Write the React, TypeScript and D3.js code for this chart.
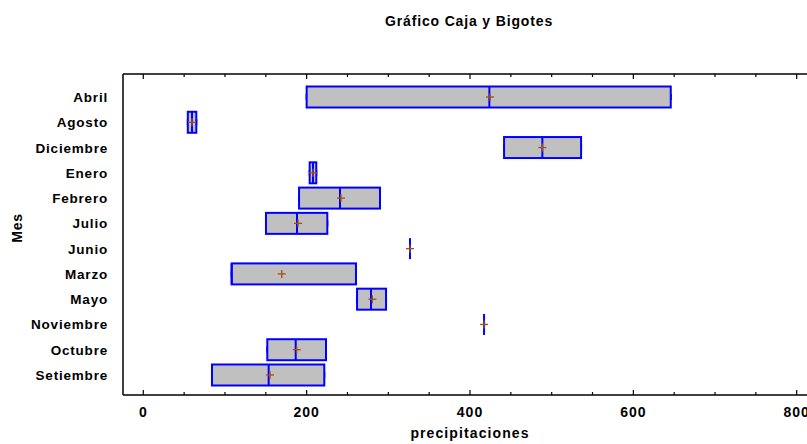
import React from "react";
import * as d3 from "d3";

// Precipitation by month: quartiles, median, mean and extremes
const months = ["Abril", "Agosto", "Diciembre", "Enero", "Febrero", "Julio", "Junio", "Marzo", "Mayo", "Noviembre", "Octubre", "Setiembre"];
const minVals = [200, 54.5, 441.7, 203.7, 190.7, 150.2, 326.5, 108.2, 261.7, 417.2, 151.8, 84.1];
const q1Vals = [200, 54.5, 441.7, 203.7, 190.7, 150.2, 326.5, 108.2, 261.7, 417.2, 151.8, 84.1];
const medianVals = [423.7, 59.6, 488.6, 207.8, 240.8, 188.2, 326.5, 108.2, 278.8, 417.2, 186.6, 153.5];
const q3Vals = [645.8, 64.9, 536, 211.8, 289.8, 225.3, 326.5, 260.4, 297.2, 417.2, 223.7, 221.6];
const maxVals = [645.8, 64.9, 536, 211.8, 289.8, 225.3, 326.5, 260.4, 297.2, 417.2, 223.7, 221.6];
const meanVals = [424.5, 59.6, 488.6, 207.8, 242, 189.4, 326.5, 169.5, 280.4, 417.2, 187.8, 155.1];

const xMajorTicks = [0, 200, 400, 600, 800];
const xMinorTicks = [50, 100, 150, 250, 300, 350, 450, 500, 550, 650, 700, 750];

const W = 807;
const H = 444;
const frame = { left: 123, top: 74, right: 812, bottom: 395 };
const FONT = "'Liberation Sans', Arial, sans-serif";
const BLUE = "#0000ff";
const BOX_FILL = "#c0c0c0";
const MEAN_COLOR = "#a0501a";

export default function App() {
  const x = d3.scaleLinear().domain([0, 800]).range([143.3, 796.7]);
  const y = d3.scalePoint<string>().domain(months).range([97, 375]);
  const boxH = 21;
  const capH = 6;

  return (
    <svg
      width={W}
      height={H}
      style={{ position: "absolute", left: 0, top: 0, background: "#fff" }}
      fontFamily={FONT}
    >
      <rect x={0} y={0} width={W} height={H} fill="#fff" />
      {/* title */}
      <text x={469} y={26} textAnchor="middle" fontSize={14} letterSpacing={0.85} fontWeight="bold" fill="#000">
        Gráfico Caja y Bigotes
      </text>

      {/* frame */}
      <line x1={frame.left} y1={frame.top} x2={frame.right} y2={frame.top} stroke="#000" strokeWidth={1.5} />
      <line x1={frame.left} y1={frame.bottom} x2={frame.right} y2={frame.bottom} stroke="#000" strokeWidth={1.5} />
      <line x1={frame.left} y1={frame.top} x2={frame.left} y2={frame.bottom} stroke="#000" strokeWidth={1.5} />

      {/* x ticks, top and bottom, pointing inward */}
      {xMajorTicks.map((t) => (
        <g key={"M" + t}>
          <line x1={x(t)} x2={x(t)} y1={frame.top} y2={frame.top + 5} stroke="#000" strokeWidth={1.2} />
          <line x1={x(t)} x2={x(t)} y1={frame.bottom} y2={frame.bottom - 5} stroke="#000" strokeWidth={1.2} />
          <text x={x(t)} y={417} textAnchor="middle" fontSize={14} letterSpacing={1} fontWeight="bold" fill="#000">
            {t}
          </text>
        </g>
      ))}
      {xMinorTicks.map((t) => (
        <g key={"m" + t}>
          <line x1={x(t)} x2={x(t)} y1={frame.top} y2={frame.top + 3} stroke="#000" strokeWidth={1.2} />
          <line x1={x(t)} x2={x(t)} y1={frame.bottom} y2={frame.bottom - 3} stroke="#000" strokeWidth={1.2} />
        </g>
      ))}

      {/* axis titles */}
      <text x={470} y={438} textAnchor="middle" fontSize={14} letterSpacing={1.1} fontWeight="bold" fill="#000">
        precipitaciones
      </text>
      <text
        transform={`translate(22,228) rotate(-90)`}
        textAnchor="middle"
        fontSize={14}
        letterSpacing={0.8}
        fontWeight="bold"
        fill="#000"
      >
        Mes
      </text>

      {/* category labels */}
      {months.map((m) => (
        <text key={"l" + m} x={108} y={(y(m) as number) + 5} textAnchor="end" fontSize={13.5} letterSpacing={0.8} fontWeight="bold" fill="#000">
          {m}
        </text>
      ))}

      {/* boxes */}
      {months.map((m, i) => {
        const cy = y(m) as number;
        const x1 = x(q1Vals[i]);
        const x3 = x(q3Vals[i]);
        const xm = x(medianVals[i]);
        const xmean = x(meanVals[i]);
        const single = q3Vals[i] - q1Vals[i] < 1;
        return (
          <g key={"b" + m}>
            {/* whiskers */}
            <line x1={x(minVals[i])} x2={x1} y1={cy} y2={cy} stroke={BLUE} strokeWidth={1} />
            <line x1={x3} x2={x(maxVals[i])} y1={cy} y2={cy} stroke={BLUE} strokeWidth={1} />
            <line x1={x(minVals[i])} x2={x(minVals[i])} y1={cy - capH / 2} y2={cy + capH / 2} stroke={BLUE} strokeWidth={2} />
            <line x1={x(maxVals[i])} x2={x(maxVals[i])} y1={cy - capH / 2} y2={cy + capH / 2} stroke={BLUE} strokeWidth={2} />
            {single ? (
              <line x1={xm} x2={xm} y1={cy - boxH / 2} y2={cy + boxH / 2} stroke={BLUE} strokeWidth={2} />
            ) : (
              <>
                <rect
                  x={x1}
                  y={cy - boxH / 2}
                  width={x3 - x1}
                  height={boxH}
                  fill={BOX_FILL}
                  stroke={BLUE}
                  strokeWidth={2}
                />
                <line x1={xm} x2={xm} y1={cy - boxH / 2} y2={cy + boxH / 2} stroke={BLUE} strokeWidth={2} />
              </>
            )}
            {/* mean marker */}
            <line x1={xmean - 4} x2={xmean + 4} y1={cy} y2={cy} stroke={MEAN_COLOR} strokeWidth={1.3} />
            <line x1={xmean} x2={xmean} y1={cy - 4} y2={cy + 4} stroke={MEAN_COLOR} strokeWidth={1.3} />
          </g>
        );
      })}
    </svg>
  );
}
